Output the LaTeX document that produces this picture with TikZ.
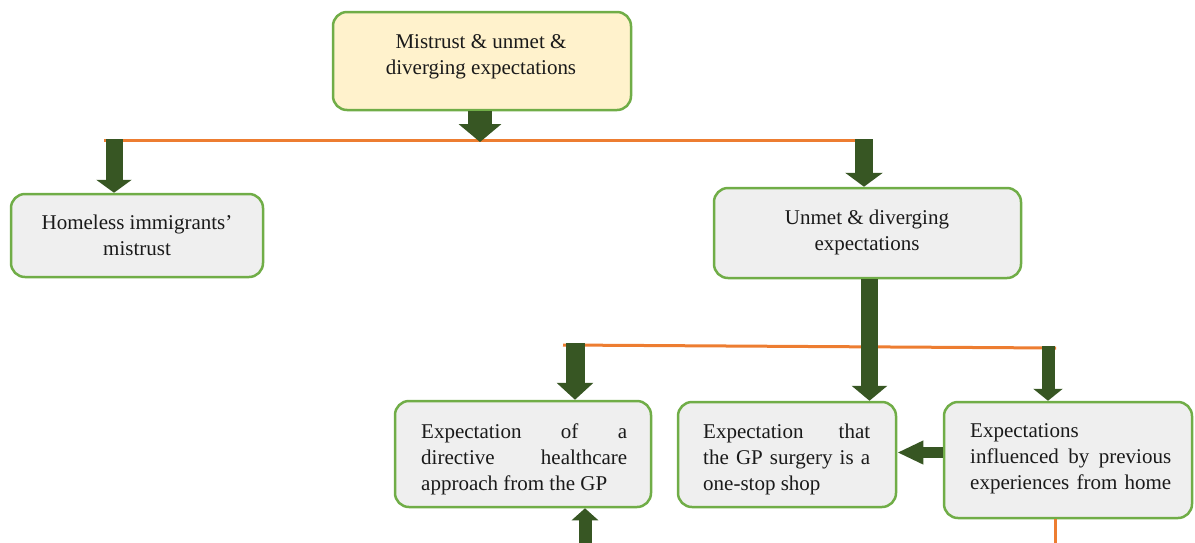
\documentclass[tikz,border=0pt]{standalone}
\usepackage{fontspec}
\setmainfont{Liberation Serif}
\usetikzlibrary{arrows.meta}
\definecolor{boxgreen}{HTML}{70AD47}
\definecolor{arrowgreen}{HTML}{375623}
\definecolor{linkorange}{HTML}{ED7D31}
\definecolor{topfill}{HTML}{FFF2CC}
\definecolor{boxfill}{HTML}{EFEFEF}
\definecolor{ink}{HTML}{1A1A1A}

\tikzset{
  box/.style={rectangle, rounded corners=14pt, draw=boxgreen, line width=2.5pt,
    fill=boxfill, inner sep=0pt},
  txt/.style={inner sep=0pt, text=ink, font=\fontsize{21}{26}\selectfont,
    execute at begin node=\strut, execute at end node=\strut},
  bar/.style={draw=linkorange, line width=3pt},
  fat/.style={draw=arrowgreen, line width=#1},
}

\begin{document}
\begin{tikzpicture}[x=1pt, y=-1pt]
\useasboundingbox (0,0) rectangle (1195,542);

% boxes
\node[box, fill=topfill, minimum width=298pt, minimum height=98pt] (top) at (482,61) {};
\node[box, minimum width=252pt, minimum height=83pt] (lbox) at (137,235.5) {};
\node[box, minimum width=307pt, minimum height=90pt] (rbox) at (867.5,233) {};
\node[box, minimum width=256pt, minimum height=106pt] (bA) at (523,454) {};
\node[box, minimum width=218pt, minimum height=105pt] (bB) at (787,454.5) {};
\node[box, minimum width=248pt, minimum height=116pt] (bC) at (1068,460) {};

% texts
\node[txt, align=center, anchor=north] (top-t) at (481,34) {Mistrust \& unmet \&\\diverging expectations};
\node[txt, align=center, anchor=north] (lbox-t) at (137,215) {Homeless immigrants’\\mistrust};
\node[txt, align=center, anchor=north] (rbox-t) at (867,210) {Unmet \& diverging\\expectations};
\node[txt, align=left, anchor=north west] (bA-t) at (421,423.5)
  {\makebox[206pt][s]{Expectation of a}\\\makebox[206pt][s]{directive healthcare}\\approach from the GP};
\node[txt, align=left, anchor=north west] (bB-t) at (703,423.5)
  {\makebox[167pt][s]{Expectation that}\\\makebox[167pt][s]{the GP surgery is a}\\one-stop shop};
\node[txt, align=left, anchor=north west] (bC-t) at (970,423.5)
  {Expectations\\\makebox[201pt][s]{influenced by previous}\\\makebox[201pt][s]{experiences from home}};

% junction points on the orange bars
\coordinate (b1l) at (104,140);
\coordinate (b1r) at (865,140);
\coordinate (j1) at (480,142);
\coordinate (j1l) at (114,139);
\coordinate (j1r) at (864,139);
\coordinate (b2l) at (563,345);
\coordinate (b2r) at (1056,348);
\coordinate (j2l) at (575,343);
\coordinate (j2r) at (1048,346);
\coordinate (feedA) at (585,543);
\coordinate (feedC) at (1055,543);

% orange bars
\draw[bar] (b1l) -- (b1r);
\draw[bar] (b2l) -- (b2r);
\draw[bar] ([xshift=-13pt]bC.south) -- ([xshift=-13pt]bC.south |- feedC);

% block arrows
\draw[fat=24pt, -{Triangle[width=42pt,length=18pt]}] ([xshift=-2pt]top.south) -- ([xshift=-2pt]top.south |- j1);
\draw[fat=17pt, -{Triangle[width=35pt,length=13pt]}] (j1l) -- (j1l |- lbox.north);
\draw[fat=18pt, -{Triangle[width=37pt,length=14pt]}] (j1r) -- (j1r |- rbox.north);
\draw[fat=17pt, -{Triangle[width=35pt,length=15pt]}] ([xshift=2pt]rbox.south) -- ([xshift=2pt]rbox.south |- bB.north);
\draw[fat=19pt, -{Triangle[width=36pt,length=17pt]}] (j2l) -- (j2l |- bA.north);
\draw[fat=13pt, -{Triangle[width=29pt,length=12pt]}] (j2r) -- (j2r |- bC.north);
\draw[fat=11pt, -{Triangle[width=22pt,length=26pt]}] ([yshift=7.5pt]bC.west) -- ([yshift=7.5pt]bC.west -| bB.east);
\draw[fat=13pt, -{Triangle[width=26pt,length=12pt]}] (feedA) -- (feedA |- bA.south);
\end{tikzpicture}
\end{document}
